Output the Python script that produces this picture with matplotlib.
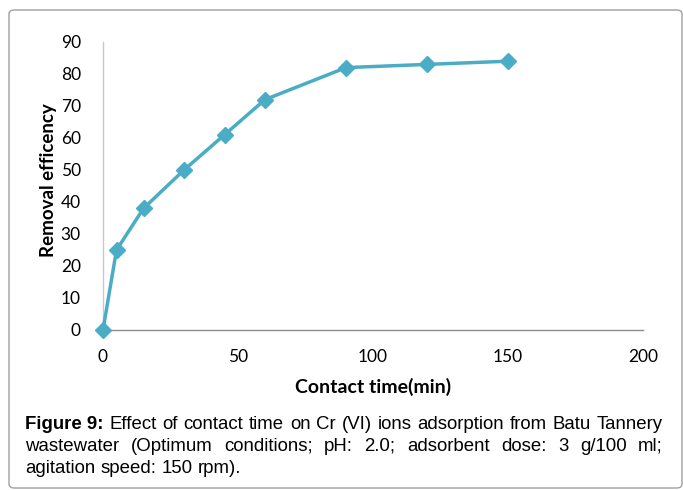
import matplotlib
matplotlib.use("Agg")
import matplotlib.pyplot as plt
from matplotlib.patches import FancyBboxPatch

# data
contact_time = [0, 5, 15, 30, 45, 60, 90, 120, 150]
removal = [0, 25, 38, 50, 61, 72, 82, 83, 84]
x_ticks = [0, 50, 100, 150, 200]
y_ticks = [0, 10, 20, 30, 40, 50, 60, 70, 80, 90]

caption_lines = [
    [("Figure 9:", True), ("Effect", False), ("of", False), ("contact", False), ("time", False),
     ("on", False), ("Cr", False), ("(VI)", False), ("ions", False), ("adsorption", False),
     ("from", False), ("Batu", False), ("Tannery", False)],
    [("wastewater", False), ("(Optimum", False), ("conditions;", False), ("pH:", False),
     ("2.0;", False), ("adsorbent", False), ("dose:", False), ("3", False), ("g/100", False),
     ("ml;", False)],
    [("agitation", False), ("speed:", False), ("150", False), ("rpm).", False)],
]

W, H = 683, 490
fig = plt.figure(figsize=(W / 100, H / 100), dpi=100)

# rounded frame around the figure
frame = FancyBboxPatch((9 / W, 2 / H), (W - 10) / W, (H - 12) / H,
                       boxstyle="round,pad=0,rounding_size=0.008",
                       transform=fig.transFigure, fill=False,
                       edgecolor="#a0a0a0", linewidth=1.0)
fig.patches.append(frame)

ax = fig.add_axes([103 / W, 1 - 330 / H, 540 / W, 288 / H])
ax.plot(contact_time, removal, color="#4bacc6", linewidth=2.5,
        marker="D", markersize=8, clip_on=False, zorder=3)

ax.set_xlim(0, 200)
ax.set_ylim(0, 90)
ax.set_xticks(x_ticks)
ax.set_yticks(y_ticks)
for s in ["top", "right"]:
    ax.spines[s].set_visible(False)
ax.spines["left"].set_color("#c8c8c8")
ax.spines["bottom"].set_color("#8c8c8c")
ax.spines["left"].set_linewidth(1.0)
ax.spines["bottom"].set_linewidth(1.0)
ax.tick_params(axis="both", length=0, labelsize=12.5, colors="#000000")
ax.tick_params(axis="y", pad=16)
ax.tick_params(axis="x", pad=14)
for lab in ax.get_xticklabels() + ax.get_yticklabels():
    lab.set_family("Lato")

ax.set_xlabel("Contact time(min)", fontsize=14, fontweight="bold", family="Lato", labelpad=9)
ax.set_ylabel("Removal efficency", fontsize=13.5, fontweight="bold", family="Lato")
ax.yaxis.set_label_coords(-0.085, 0.52)

# justified caption: pick a size so the first line fills the width with normal spaces
renderer = fig.canvas.get_renderer()
left, right = 25, 663
line_y = [424, 446, 468]
probe = fig.text(0, 0, " ".join(w for w, _ in caption_lines[0]), fontsize=10,
                 family="Liberation Sans")
fs = 10 * (right - left) / probe.get_window_extent(renderer).width * 0.99
probe.remove()

for i, words in enumerate(caption_lines):
    texts = []
    for w, bold in words:
        t = fig.text(0, 1 - line_y[i] / H, w, fontsize=fs, family="Liberation Sans",
                     fontweight="bold" if bold else "normal", va="center", ha="left")
        texts.append(t)
    widths = [t.get_window_extent(renderer).width for t in texts]
    if i < len(caption_lines) - 1:
        gap = (right - left - sum(widths)) / (len(texts) - 1)
    else:
        gap = fs * 100 / 72 * 0.28
    x = left
    for t, wd in zip(texts, widths):
        t.set_x(x / W)
        x += wd + gap

fig.savefig("out.png", dpi=100)
